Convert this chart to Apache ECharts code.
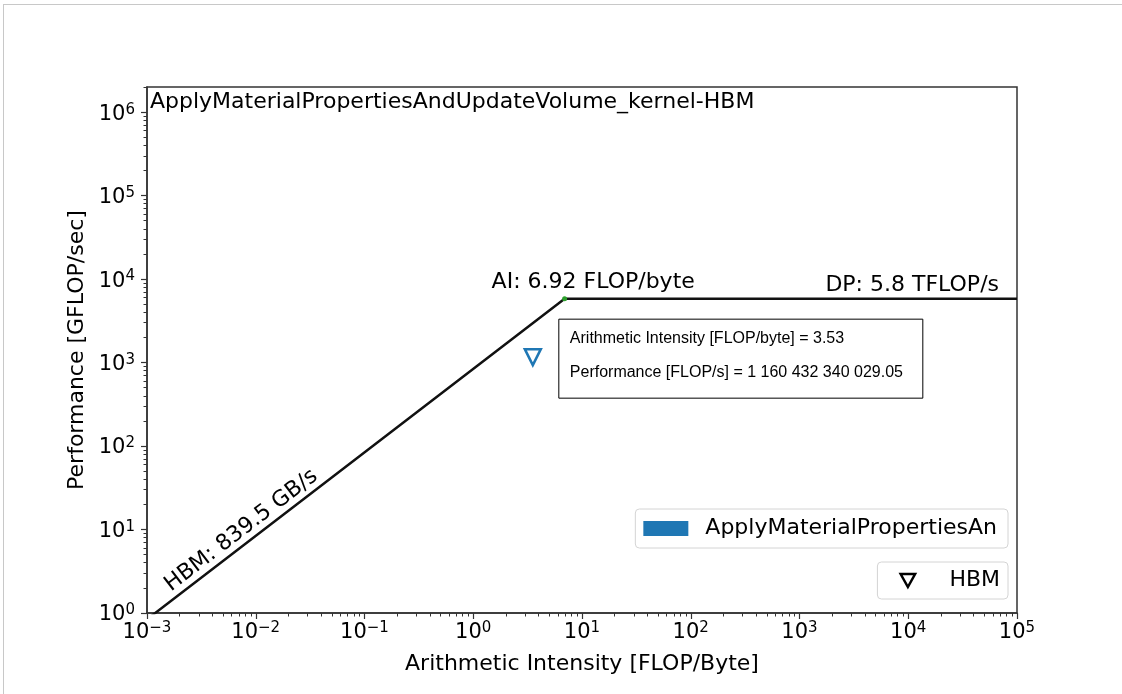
<!DOCTYPE html>
<html>
<head>
<meta charset="utf-8">
<title>Roofline - ApplyMaterialPropertiesAndUpdateVolume_kernel</title>
<script src="https://cdn.jsdelivr.net/npm/echarts@6/dist/echarts.min.js"></script>
<style>
  html, body { margin: 0; padding: 0; background: #fff; }
  #frame { position: absolute; left: 3px; top: 4px; width: 1119px; height: 690px;
           border-left: 1px solid #c8c8c8; border-top: 1px solid #c8c8c8; }
  #chart { position: absolute; left: 0; top: 0; width: 1122px; height: 694px; }
</style>
</head>
<body>
<div id="frame"></div>
<div id="chart"></div>
<script>
// roofline: HBM bandwidth ceiling + DP compute ceiling
const hbmBandwidth = 839.5;          // GB/s
const dpPeak = 5809;                 // GFLOP/s
const rooflineAI = [0.001, 6.92, 100000];
const rooflinePerf = [0.8395, 5809, 5809];

// measured kernel
const kernelName = 'ApplyMaterialPropertiesAn';
const kernelAI = [3.53];
const kernelFlops = [1160432340029.05];   // FLOP/s

// axis ticks (powers of ten)
const xMajor = [1e-3, 1e-2, 1e-1, 1e0, 1e1, 1e2, 1e3, 1e4, 1e5];
const yMajor = [1e0, 1e1, 1e2, 1e3, 1e4, 1e5, 1e6];

function minorTicks(majors, max) {
  const out = [];
  majors.forEach(m => {
    for (let k = 2; k <= 9; k++) {
      if (m * k <= max) out.push(m * k);
    }
  });
  return out;
}
const xMinor = minorTicks(xMajor, 1e5);
const yMinor = minorTicks(yMajor, 2e6);

const FONT = 'DejaVu Sans';
const AXIS_COLOR = '#333';

function powLabel(v) {
  const e = Math.round(Math.log10(v));
  if (Math.abs(Math.log10(v) - e) > 1e-6) return '';
  return '{b|10}{s|' + String(e).replace('-', '\u2212') + '}';
}
const richSup = {
  b: { fontSize: 21, lineHeight: 24, fontFamily: FONT, color: '#000' },
  s: { fontSize: 15, lineHeight: 15, fontFamily: FONT, color: '#000', verticalAlign: 'top' }
};

function fmtSpaces(n) {
  const parts = n.toFixed(2).split('.');
  return parts[0].replace(/\B(?=(\d{3})+(?!\d))/g, ' ') + '.' + parts[1];
}

const chart = echarts.init(document.getElementById('chart'));

const option = {
  animation: false,
  title: {
    text: 'ApplyMaterialPropertiesAndUpdateVolume_kernel-HBM',
    left: 150,
    top: 91,
    padding: 0,
    textStyle: { fontSize: 22, fontWeight: 'normal', fontFamily: FONT, color: '#000' }
  },
  grid: {
    left: 147,
    right: 105,
    top: 87,
    bottom: 81,
    show: true,
    borderColor: AXIS_COLOR,
    borderWidth: 1.5
  },
  legend: [
    {
      data: [{ name: kernelName, icon: 'rect', itemStyle: { color: '#1f77b4', borderWidth: 0, opacity: 1 } }],
      right: 114,
      top: 509,
      orient: 'vertical',
      itemWidth: 45,
      itemHeight: 15,
      padding: [7, 11, 7, 8],
      backgroundColor: 'rgba(255,255,255,0.85)',
      borderColor: '#d4d4d4',
      borderWidth: 1,
      borderRadius: 4,
      selectedMode: false,
      textStyle: { fontSize: 22, fontFamily: FONT, color: '#000', lineHeight: 25, padding: [0, 0, 0, 12] }
    },
    {
      data: [{
        name: 'HBM',
        icon: 'path://M0,0L20,0L10,18Z',
        itemStyle: { color: 'rgba(0,0,0,0)', borderColor: '#000', borderWidth: 2.5, opacity: 1 }
      }],
      right: 114,
      top: 562,
      orient: 'vertical',
      itemWidth: 45,
      itemHeight: 13,
      padding: [6, 8, 6, 22],
      backgroundColor: 'rgba(255,255,255,0.85)',
      borderColor: '#d4d4d4',
      borderWidth: 1,
      borderRadius: 4,
      selectedMode: false,
      textStyle: { fontSize: 22, fontFamily: FONT, color: '#000', lineHeight: 25, padding: [0, 0, 0, 14] }
    }
  ],
  xAxis: [
    {
      type: 'log',
      logBase: 10,
      min: 1e-3,
      max: 1e5,
      position: 'bottom',
      name: 'Arithmetic Intensity [FLOP/Byte]',
      nameLocation: 'middle',
      nameGap: 40,
      nameTextStyle: { fontSize: 22, fontFamily: FONT, color: '#000' },
      axisLine: { show: true, lineStyle: { color: AXIS_COLOR, width: 1.5 } },
      axisTick: { show: true, length: 6, customValues: xMajor, lineStyle: { color: AXIS_COLOR, width: 1.2 } },
      axisLabel: { customValues: xMajor, formatter: powLabel, rich: richSup, margin: 8 },
      splitLine: { show: false }
    },
    {
      type: 'log',
      logBase: 10,
      min: 1e-3,
      max: 1e5,
      position: 'bottom',
      axisLine: { show: false },
      axisTick: { show: true, length: 3.5, customValues: xMinor, lineStyle: { color: AXIS_COLOR, width: 1 } },
      axisLabel: { show: false },
      splitLine: { show: false }
    }
  ],
  yAxis: [
    {
      type: 'log',
      logBase: 10,
      min: 1,
      max: 2e6,
      position: 'left',
      name: 'Performance [GFLOP/sec]',
      nameLocation: 'middle',
      nameGap: 57,
      nameTextStyle: { fontSize: 22, fontFamily: FONT, color: '#000' },
      axisLine: { show: true, lineStyle: { color: AXIS_COLOR, width: 1.5 } },
      axisTick: { show: true, length: 6, customValues: yMajor, lineStyle: { color: AXIS_COLOR, width: 1.2 } },
      axisLabel: { customValues: yMajor, formatter: powLabel, rich: richSup, margin: 12, padding: [4, 0, 0, 0] },
      splitLine: { show: false }
    },
    {
      type: 'log',
      logBase: 10,
      min: 1,
      max: 2e6,
      position: 'left',
      axisLine: { show: false },
      axisTick: { show: true, length: 3.5, customValues: yMinor, lineStyle: { color: AXIS_COLOR, width: 1 } },
      axisLabel: { show: false },
      splitLine: { show: false }
    }
  ],
  series: [
    {
      name: 'HBM',
      type: 'line',
      xAxisIndex: 0,
      yAxisIndex: 0,
      data: rooflineAI.map((x, i) => [x, rooflinePerf[i]]),
      symbol: 'none',
      lineStyle: { color: '#111', width: 2.5 },
      z: 2
    },
    {
      name: 'ridge',
      type: 'scatter',
      xAxisIndex: 0,
      yAxisIndex: 0,
      data: [[rooflineAI[1], rooflinePerf[1]]],
      symbolSize: 5,
      itemStyle: { color: '#2ca02c', opacity: 1 },
      z: 3
    },
    {
      name: kernelName,
      type: 'scatter',
      xAxisIndex: 0,
      yAxisIndex: 0,
      data: kernelAI.map((x, i) => [x, kernelFlops[i] / 1e9]),
      symbol: 'triangle',
      symbolRotate: 180,
      symbolSize: 16,
      itemStyle: { color: 'rgba(0,0,0,0)', borderColor: '#1f77b4', borderWidth: 2.5, opacity: 1 },
      z: 4
    }
  ]
};

chart.setOption(option);

// text annotations placed from data coordinates
const px = p => chart.convertToPixel({ seriesIndex: 0 }, p);
const pStart = px([rooflineAI[0], rooflinePerf[0]]);
const pRidge = px([rooflineAI[1], rooflinePerf[1]]);
const pEnd = px([rooflineAI[2], rooflinePerf[2]]);
const slope = Math.atan2(pStart[1] - pRidge[1], pRidge[0] - pStart[0]);
const hbmAt = 1.83e-3;
const pHbm = px([hbmAt, hbmBandwidth * hbmAt]);
const pKernel = px([kernelAI[0], kernelFlops[0] / 1e9]);
const labelFont = { fontSize: 22, fontFamily: FONT, fill: '#000' };

chart.setOption({
  graphic: [
    {
      type: 'text',
      x: pRidge[0] - 73,
      y: pRidge[1] - 16,
      style: Object.assign({ text: 'AI: ' + rooflineAI[1].toFixed(2) + ' FLOP/byte', align: 'left', verticalAlign: 'middle' }, labelFont)
    },
    {
      type: 'text',
      x: pEnd[0] - 18,
      y: pEnd[1] - 13,
      style: Object.assign({ text: 'DP: ' + (dpPeak / 1000).toFixed(1) + ' TFLOP/s', align: 'right', verticalAlign: 'middle' }, labelFont)
    },
    {
      type: 'text',
      x: pHbm[0] - 2 * Math.sin(slope),
      y: pHbm[1] - 2 * Math.cos(slope),
      rotation: slope,
      style: Object.assign({ text: 'HBM: ' + hbmBandwidth + ' GB/s', align: 'left', verticalAlign: 'bottom' }, labelFont)
    },
    {
      type: 'group',
      x: pKernel[0] + 26,
      y: pKernel[1] - 38,
      z: 10,
      children: [
        {
          type: 'rect',
          shape: { x: 0, y: 0, width: 364, height: 79 },
          style: { fill: '#fff', stroke: '#000', lineWidth: 1 }
        },
        {
          type: 'text',
          x: 11,
          y: 19,
          style: { text: 'Arithmetic Intensity [FLOP/byte] = ' + kernelAI[0], fontSize: 16, fontFamily: 'Liberation Sans', fill: '#000', verticalAlign: 'middle' }
        },
        {
          type: 'text',
          x: 11,
          y: 53,
          style: { text: 'Performance [FLOP/s] = ' + fmtSpaces(kernelFlops[0]), fontSize: 16, fontFamily: 'Liberation Sans', fill: '#000', verticalAlign: 'middle' }
        }
      ]
    }
  ]
});
</script>
</body>
</html>
